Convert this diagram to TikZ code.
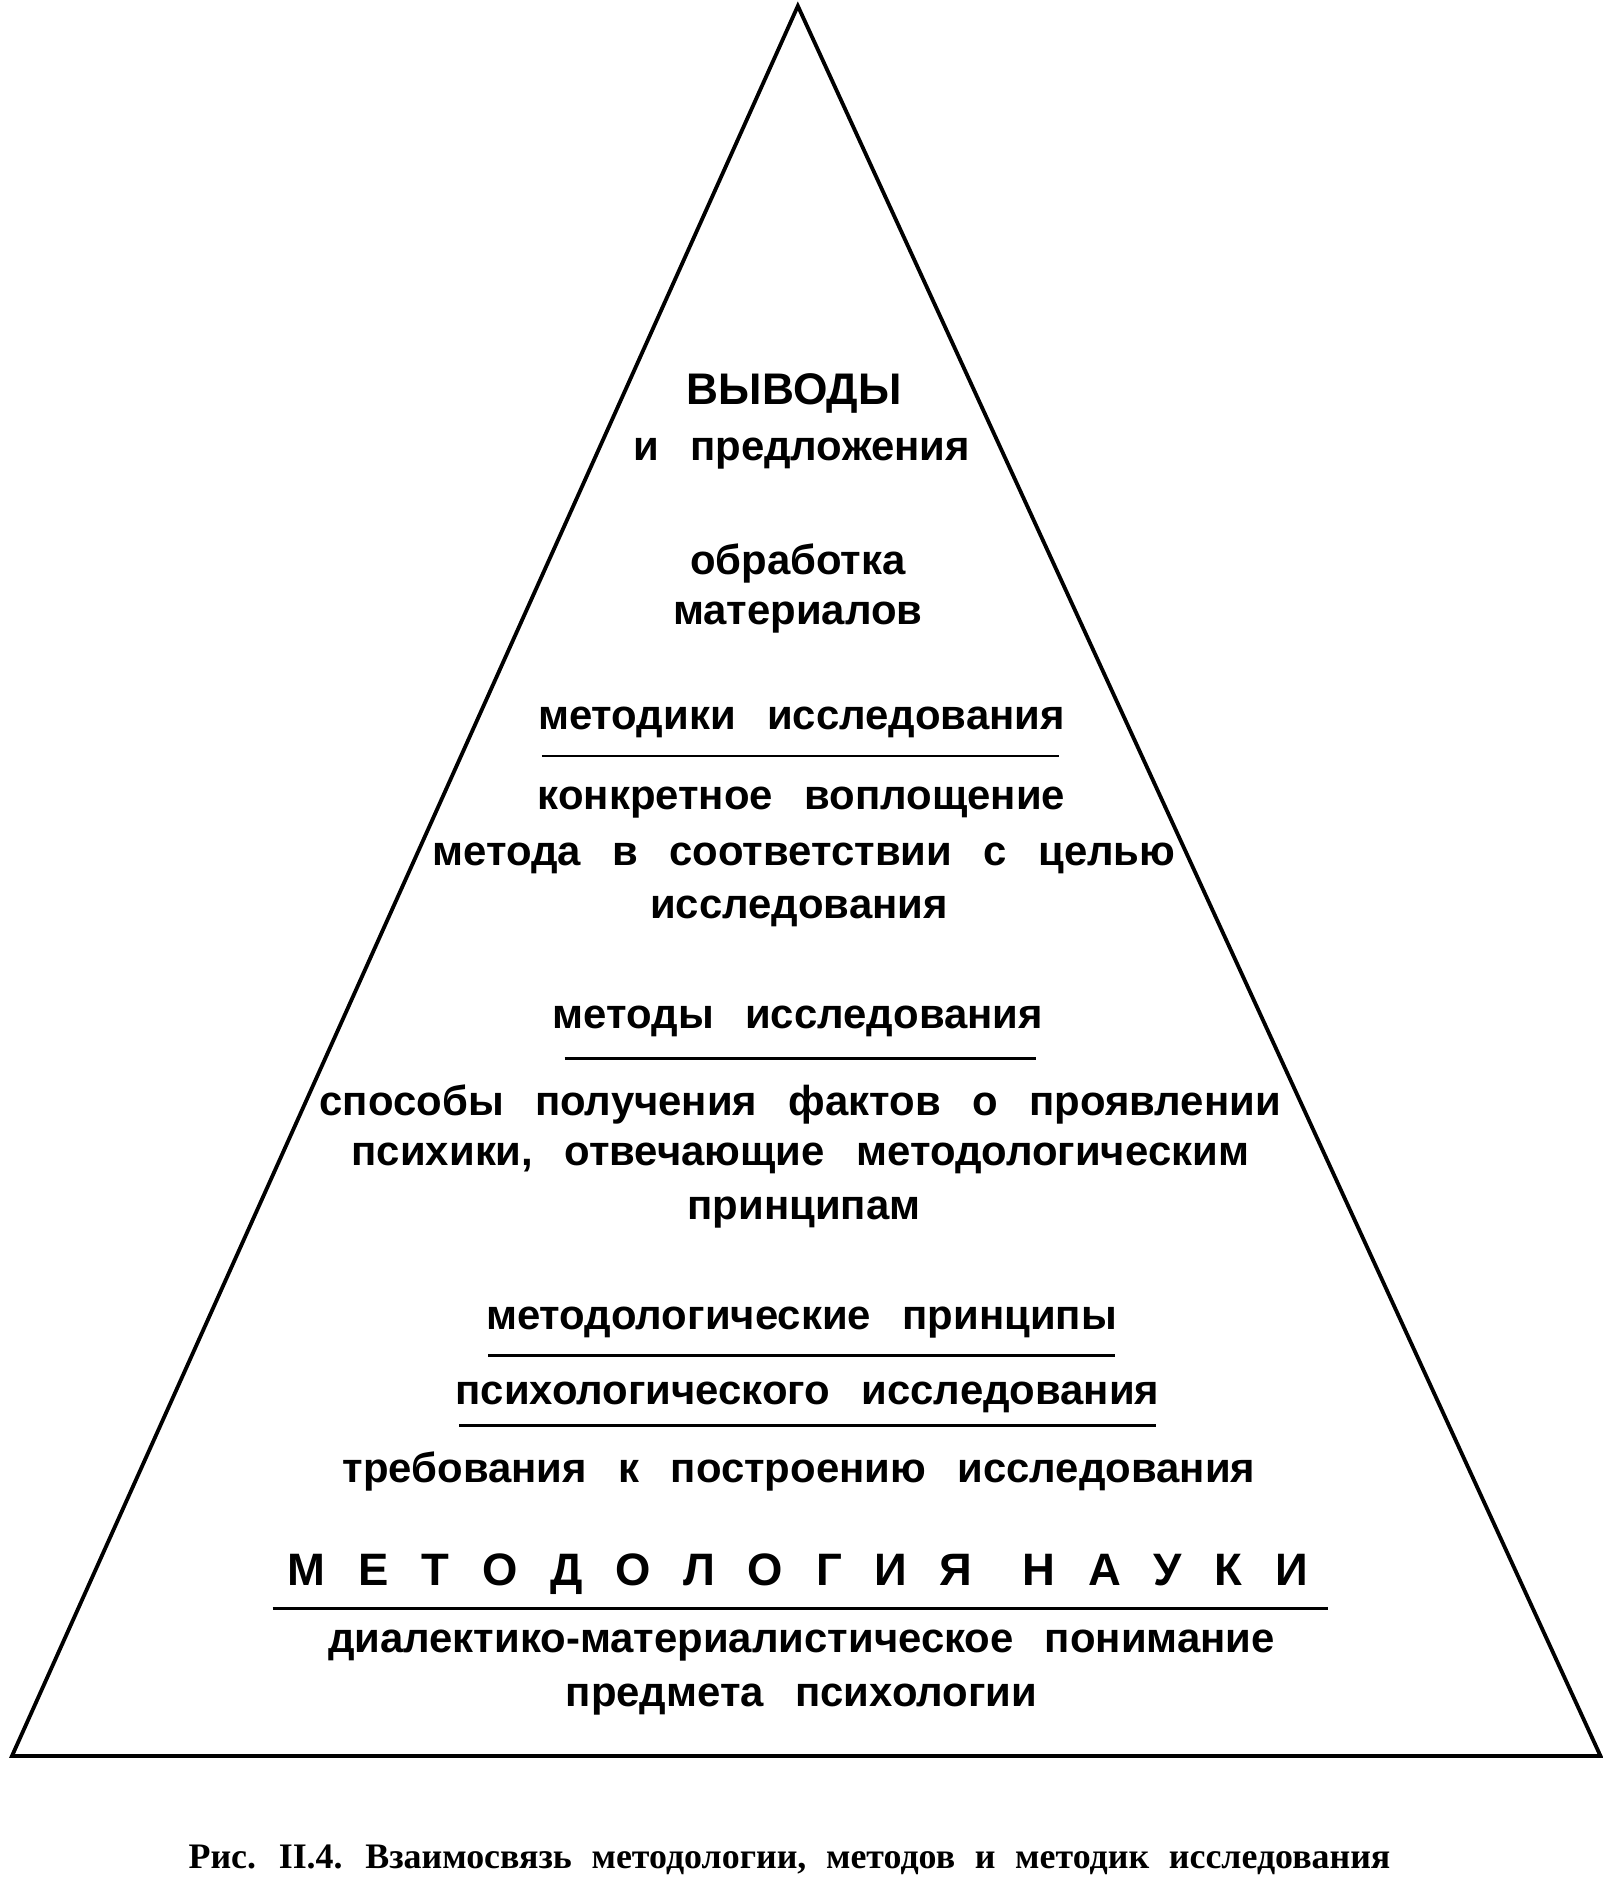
\documentclass[tikz,border=0pt]{standalone}
\usepackage{fontspec}
\setmainfont{Liberation Sans}
\newfontfamily\capfont{Liberation Serif}
\newcommand\mywsp[1]{\spaceskip=#1\relax}
\newcommand\ls{\hspace{0.72em}}
\begin{document}
\begin{tikzpicture}[x=0.5pt,y=-0.5pt,
  t/.style={font=\fontsize{17.5}{20}\selectfont\bfseries\mywsp{0.75em},inner sep=0,yshift=-3pt},
  rl/.style={line width=1.2pt}]
\useasboundingbox (0,0) rectangle (1340,1570);
\coordinate (A) at (667,5); \coordinate (B) at (10,1468); \coordinate (C) at (1338,1468);
\draw[line width=1.6pt] (A) -- (B) -- (C) -- cycle;
\node[t,font=\fontsize{18.5}{22}\selectfont\bfseries] (n1) at (664,323) {ВЫВОДЫ};
\node[t] (n2) at (670,373) {и предложения};
\node[t] (n3) at (667,465) {обработка};
\node[t] (n4) at (667,510) {материалов};
\node[t] (n5) at (670,598) {методики исследования};
\coordinate (r1a) at (453,632); \coordinate (r1b) at (885,632); \draw[rl] (r1a) -- (r1b);
\node[t] (n6) at (670,665) {конкретное воплощение};
\node[t] (n7) at (672,712) {метода в соответствии с целью};
\node[t] (n8) at (668,756) {исследования};
\node[t] (n9) at (667,848) {методы исследования};
\coordinate (r2a) at (472,885); \coordinate (r2b) at (866,885); \draw[rl] (r2a) -- (r2b);
\node[t] (n10) at (669,917) {способы получения фактов о проявлении};
\node[t] (n11) at (669,962) {психики, отвечающие методологическим};
\node[t] (n12) at (672,1008) {принципам};
\node[t] (n13) at (670,1100) {методологические принципы};
\coordinate (r3a) at (408,1133); \coordinate (r3b) at (932,1133); \draw[rl] (r3a) -- (r3b);
\node[t] (n14) at (675,1162) {психологического исследования};
\coordinate (r4a) at (384,1192); \coordinate (r4b) at (966,1192); \draw[rl] (r4a) -- (r4b);
\node[t] (n15) at (668,1224) {требования к построению исследования};
\node[t,font=\fontsize{19}{22}\selectfont\bfseries\mywsp{1.1em}] (n16) at (667,1310) {М\ls Е\ls Т\ls О\ls Д\ls О\ls Л\ls О\ls Г\ls И\ls Я Н\ls А\ls У\ls К\ls И};
\coordinate (r5a) at (228,1345); \coordinate (r5b) at (1110,1345); \draw[rl] (r5a) -- (r5b);
\node[t] (n17) at (670,1370) {диалектико-материалистическое понимание};
\node[t] (n18) at (670,1415) {предмета психологии};
\node[inner sep=0,font=\capfont\fontsize{15}{18}\selectfont\bfseries\mywsp{0.55em}] (cap) at (660,1555) {Рис. II.4. Взаимосвязь методологии, методов и методик исследования};
\end{tikzpicture}
\end{document}
